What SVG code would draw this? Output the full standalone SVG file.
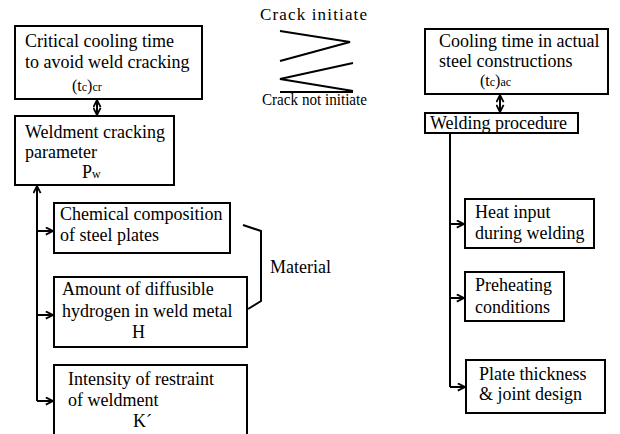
<svg xmlns="http://www.w3.org/2000/svg" width="620" height="434" viewBox="0 0 620 434">
<defs>
<style>
.box{fill:#fff;stroke:#000;stroke-width:2}
.ln{fill:none;stroke:#000;stroke-width:2}
.sub{font-size:12px}
</style>
<marker id="ah" viewBox="0 0 10 10" refX="9" refY="5" markerWidth="9" markerHeight="9" markerUnits="userSpaceOnUse" orient="auto-start-reverse">
<path d="M1,1 L9,5 L1,9" fill="none" stroke="#000" stroke-width="2"/>
</marker>
</defs>
<rect width="620" height="434" fill="#fff"/>
<g id="connectors">
<line class="ln" x1="97" y1="100" x2="97" y2="115" marker-start="url(#ah)" marker-end="url(#ah)"/>
<line class="ln" x1="500" y1="95" x2="500" y2="112" marker-start="url(#ah)" marker-end="url(#ah)"/>
<line class="ln" x1="37" y1="401" x2="37" y2="186" marker-end="url(#ah)"/>
<line class="ln" x1="37" y1="231" x2="53" y2="231" marker-end="url(#ah)"/>
<line class="ln" x1="37" y1="315" x2="53" y2="315" marker-end="url(#ah)"/>
<line class="ln" x1="37" y1="401" x2="53" y2="401" marker-end="url(#ah)"/>
<line class="ln" x1="450" y1="133" x2="450" y2="387"/>
<line class="ln" x1="450" y1="224" x2="464" y2="224" marker-end="url(#ah)"/>
<line class="ln" x1="450" y1="298" x2="464" y2="298" marker-end="url(#ah)"/>
<line class="ln" x1="450" y1="387" x2="465" y2="387" marker-end="url(#ah)"/>
<polyline class="ln" points="243,225 261,231 261,301 248,309"/>
</g>
<g id="critical">
<rect class="box" x="15" y="26" width="187" height="73"/>
<text x="25" y="47" font-family="Liberation Serif" font-size="18">Critical cooling time</text>
<text x="25" y="68" font-family="Liberation Serif" font-size="18">to avoid weld cracking</text>
<text x="72" y="91" font-family="Liberation Serif" font-size="16">(t<tspan class="sub">c</tspan>)<tspan class="sub">cr</tspan></text>
</g>
<g id="pw">
<rect class="box" x="15" y="116" width="159" height="69"/>
<text x="25" y="138" font-family="Liberation Serif" font-size="18">Weldment cracking</text>
<text x="25" y="158" font-family="Liberation Serif" font-size="18">parameter</text>
<text x="82" y="178" font-family="Liberation Serif" font-size="18">P<tspan class="sub">w</tspan></text>
</g>
<g id="crack">
<text x="260" y="20" font-family="Liberation Serif" font-size="17" textLength="107" lengthAdjust="spacing">Crack initiate</text>
<polyline class="ln" points="280,31 350,42 280,61"/>
<polyline class="ln" points="353,63 280,79 353,91"/>
<line class="ln" x1="280" y1="92" x2="353" y2="92"/>
<text x="262" y="105" font-family="Liberation Serif" font-size="16" textLength="105" lengthAdjust="spacingAndGlyphs">Crack not initiate</text>
</g>
<g id="chem">
<rect class="box" x="54" y="203" width="176" height="50"/>
<text x="60" y="220" font-family="Liberation Serif" font-size="18">Chemical composition</text>
<text x="60" y="241" font-family="Liberation Serif" font-size="18">of steel plates</text>
</g>
<g id="hydrogen">
<rect class="box" x="54" y="277" width="193" height="70"/>
<text x="62" y="295" font-family="Liberation Serif" font-size="18">Amount of diffusible</text>
<text x="62" y="317" font-family="Liberation Serif" font-size="18">hydrogen in weld metal</text>
<text x="132" y="338" font-family="Liberation Serif" font-size="18">H</text>
</g>
<g id="material">
<text x="270" y="273" font-family="Liberation Serif" font-size="18">Material</text>
</g>
<g id="restraint">
<rect class="box" x="54" y="365" width="193" height="80"/>
<text x="68" y="385" font-family="Liberation Serif" font-size="18">Intensity of restraint</text>
<text x="68" y="406" font-family="Liberation Serif" font-size="18">of weldment</text>
<text x="133" y="427" font-family="Liberation Serif" font-size="18">K´</text>
</g>
<g id="actual">
<rect class="box" x="425" y="29" width="183" height="65"/>
<text x="439" y="47" font-family="Liberation Serif" font-size="18">Cooling time in actual</text>
<text x="439" y="67" font-family="Liberation Serif" font-size="18">steel constructions</text>
<text x="480" y="86" font-family="Liberation Serif" font-size="16">(t<tspan class="sub">c</tspan>)<tspan class="sub">ac</tspan></text>
</g>
<g id="procedure">
<rect class="box" x="425" y="113" width="153" height="20"/>
<text x="430" y="129" font-family="Liberation Serif" font-size="18">Welding procedure</text>
</g>
<g id="heat">
<rect class="box" x="465" y="199" width="129" height="49"/>
<text x="475" y="218" font-family="Liberation Serif" font-size="18">Heat input</text>
<text x="475" y="239" font-family="Liberation Serif" font-size="18">during welding</text>
</g>
<g id="preheat">
<rect class="box" x="465" y="272" width="99" height="49"/>
<text x="475" y="291" font-family="Liberation Serif" font-size="18">Preheating</text>
<text x="475" y="313" font-family="Liberation Serif" font-size="18">conditions</text>
</g>
<g id="plate">
<rect class="box" x="466" y="360" width="139" height="53"/>
<text x="479" y="380" font-family="Liberation Serif" font-size="18">Plate thickness</text>
<text x="479" y="400" font-family="Liberation Serif" font-size="18">&amp; joint design</text>
</g>
</svg>
